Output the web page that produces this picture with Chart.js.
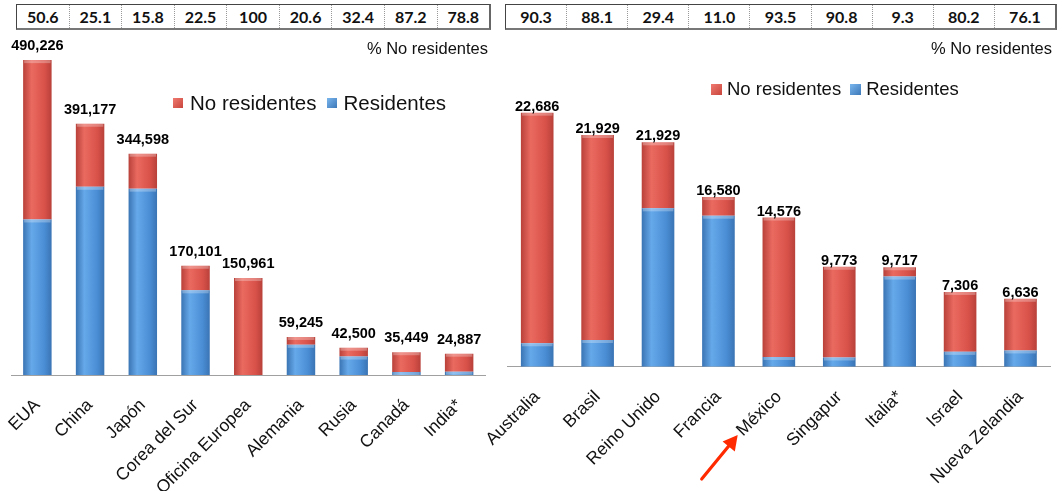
<!DOCTYPE html>
<html>
<head>
<meta charset="utf-8">
<script src="https://cdn.jsdelivr.net/npm/chart.js@4.4.1/dist/chart.umd.min.js"></script>
<style>
  body { margin: 0; background: #fff; font-family: "Liberation Sans", Arial, sans-serif; }
  #wrap { position: relative; width: 1062px; height: 491px; overflow: hidden; background: #fff; }
  canvas { position: absolute; left: 0; top: 0; }
  .pct { position: absolute; top: 4px; height: 26px; display: flex; box-sizing: border-box;
         border: 1px solid #444; border-right: 2px solid #666; border-bottom: 2px solid #777; background: #fff; }
  .pct div { flex: 1; text-align: center; font: bold 16px Lato, sans-serif; line-height: 23px; color: #111;
             border-left: 1px dotted #999; }
  .pct div:first-child { border-left: none; }
  .note { position: absolute; top: 38px; font-size: 16.5px; line-height: 20px; color: #111; text-align: right; }
  .legend { position: absolute; display: flex; align-items: center; color: #111; white-space: nowrap; }
  .legend i { display: inline-block; width: 10px; height: 10px; }
  .red { background: linear-gradient(135deg, #f07a70, #c8453c); }
  .blue { background: linear-gradient(135deg, #7ab6ee, #3d78b8); }
  svg { position: absolute; left: 0; top: 0; }
</style>
</head>
<body>
<div id="wrap">
  <canvas id="leftChart" width="1062" height="491"></canvas>
  <canvas id="rightChart" width="1062" height="491"></canvas>

  <div class="pct" id="leftPct" style="left:16px; width:475px;"></div>
  <div class="pct" id="rightPct" style="left:505px; width:552px;"></div>

  <div class="note" style="right:574px;">% No residentes</div>
  <div class="note" style="right:10px;">% No residentes</div>

  <div class="legend" style="left:173px; top:91px; font-size:20.5px;">
    <i class="red"></i><span style="margin:0 11px 0 7px;">No residentes</span>
    <i class="blue"></i><span style="margin-left:6px;">Residentes</span>
  </div>
  <div class="legend" style="left:711px; top:78px; font-size:18.5px;">
    <i class="red" style="width:11px;height:11px;"></i><span style="margin:0 9px 0 5px;">No residentes</span>
    <i class="blue" style="width:11px;height:11px;"></i><span style="margin-left:5px;">Residentes</span>
  </div>

  <svg width="1062" height="491">
    <line x1="701.7" y1="479" x2="730" y2="444.5" stroke="#ff2a00" stroke-width="3.2" stroke-linecap="round"/>
    <polygon points="737.7,435 734.8,451.5 722.6,441.5" fill="#ff2a00"/>
  </svg>
</div>

<script>
// ---------------------------------------------------------------------------
// DATA
// ---------------------------------------------------------------------------

// left panel
const leftCountries = ['EUA', 'China', 'Japón', 'Corea del Sur', 'Oficina Europea', 'Alemania', 'Rusia', 'Canadá', 'India*'];
const leftResidentes   = [242172, 292992, 290152, 131828, 0, 47041, 28730, 4537, 5200];
const leftNoResidentes = [248054, 98185, 54446, 38273, 150961, 12204, 13770, 30912, 28000];
const leftTotals = ['490,226', '391,177', '344,598', '170,101', '150,961', '59,245', '42,500', '35,449', '24,887'];
const leftPctNoRes = ['50.6', '25.1', '15.8', '22.5', '100', '20.6', '32.4', '87.2', '78.8'];

// right panel
const rightCountries = ['Australia', 'Brasil', 'Reino Unido', 'Francia', 'México', 'Singapur', 'Italia*', 'Israel', 'Nueva Zelandia'];
const rightResidentes   = [2290, 2610, 15480, 14760, 950, 900, 8810, 1450, 1590];
const rightNoResidentes = [22540, 20040, 6450, 1820, 13630, 8870, 910, 5860, 5050];
const rightTotals = ['22,686', '21,929', '21,929', '16,580', '14,576', '9,773', '9,717', '7,306', '6,636'];
const rightPctNoRes = ['90.3', '88.1', '29.4', '11.0', '93.5', '90.8', '9.3', '80.2', '76.1'];

// ---------------------------------------------------------------------------
// HELPERS
// ---------------------------------------------------------------------------

const BAR_PCT = 0.54;

// horizontal shading across each bar, like the 3D look of the original
function barFill(edge, light, mid) {
    return (c) => {
        const xs = c.chart.scales.x;
        if (!xs || c.type !== 'data') return mid;
        const cx = xs.getPixelForValue(c.dataIndex);
        const w = (xs.getPixelForValue(1) - xs.getPixelForValue(0)) * BAR_PCT;
        if (!Number.isFinite(cx) || !Number.isFinite(w) || w <= 0) return mid;
        const g = c.chart.ctx.createLinearGradient(cx - w / 2, 0, cx + w / 2, 0);
        g.addColorStop(0, edge);
        g.addColorStop(0.3, light);
        g.addColorStop(0.75, mid);
        g.addColorStop(1, edge);
        return g;
    };
}

// totals above the stacks + light bevel on top of each segment
const totalsPlugin = {
    id: 'totals',
    afterDatasetsDraw(chart, args, opts) {
        const ctx = chart.ctx;
        ctx.save();
        chart.data.datasets.forEach((ds, d) => {
            chart.getDatasetMeta(d).data.forEach((bar) => {
                const h = Math.abs(bar.base - bar.y);
                if (h < 1) return;
                ctx.fillStyle = 'rgba(255,255,255,0.28)';
                ctx.fillRect(bar.x - bar.width / 2 + 1, bar.y, bar.width - 2, Math.min(3, h));
            });
        });
        ctx.font = 'bold 14.5px "Liberation Sans", Arial, sans-serif';
        ctx.textAlign = 'center';
        ctx.textBaseline = 'middle';
        ctx.fillStyle = '#000';
        chart.getDatasetMeta(1).data.forEach((bar, i) => {
            ctx.fillText(opts.labels[i], bar.x, bar.y - opts.gap);
        });
        ctx.restore();
    }
};

function makeChart(id, labels, res, noRes, totals, box) {
    return new Chart(document.getElementById(id), {
        type: 'bar',
        data: {
            labels: labels,
            datasets: [
                {
                    label: 'Residentes',
                    data: res,
                    backgroundColor: barFill('#3a74b4', '#66a9ea', '#4a8dd4'),
                    borderWidth: 0
                },
                {
                    label: 'No residentes',
                    data: noRes,
                    backgroundColor: barFill('#b8413a', '#ea6a60', '#d9524a'),
                    borderWidth: 0
                }
            ]
        },
        options: {
            responsive: false,
            animation: false,
            devicePixelRatio: 1,
            categoryPercentage: 1,
            barPercentage: BAR_PCT,
            layout: { padding: { left: box.left, right: 1062 - box.right, top: box.top, bottom: 0 } },
            plugins: {
                legend: { display: false },
                tooltip: { enabled: false },
                totals: { labels: totals, gap: box.gap }
            },
            scales: {
                x: {
                    stacked: true,
                    grid: { display: false },
                    border: { display: true, color: '#a0a0a0', width: 1 },
                    ticks: {
                        autoSkip: false,
                        minRotation: 45,
                        maxRotation: 45,
                        padding: 12,
                        color: '#111',
                        font: { family: '"Liberation Sans", Arial, sans-serif', size: 17.5 }
                    },
                    afterFit: (scale) => {
                        scale.height = 491 - box.bottom;
                        scale.paddingLeft = 0;
                        scale.paddingRight = 0;
                    }
                },
                y: {
                    stacked: true,
                    display: false,
                    min: 0,
                    max: box.max
                }
            }
        },
        plugins: [totalsPlugin]
    });
}

function fillTable(id, values) {
    const el = document.getElementById(id);
    values.forEach(v => {
        const cell = document.createElement('div');
        cell.textContent = v;
        el.appendChild(cell);
    });
}

// ---------------------------------------------------------------------------
// INITIALIZE
// ---------------------------------------------------------------------------

fillTable('leftPct', leftPctNoRes);
fillTable('rightPct', rightPctNoRes);

makeChart('leftChart', leftCountries, leftResidentes, leftNoResidentes, leftTotals,
    { left: 11, right: 485.5, top: 41, bottom: 375, max: 520000, gap: 14 });
makeChart('rightChart', rightCountries, rightResidentes, rightNoResidentes, rightTotals,
    { left: 507, right: 1050.7, top: 39.3, bottom: 366.7, max: 32000, gap: 6 });
</script>
</body>
</html>
